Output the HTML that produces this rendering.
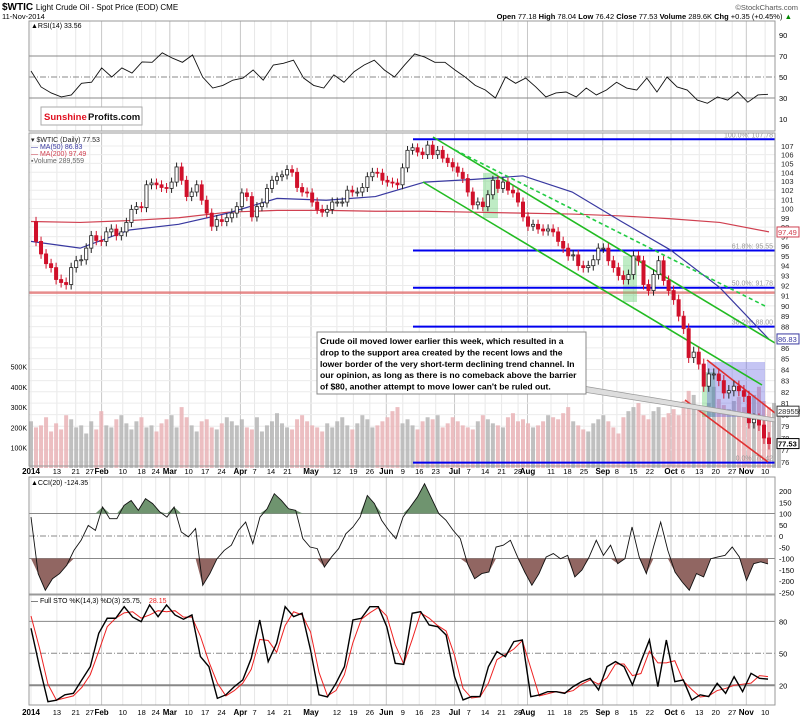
<!DOCTYPE html>
<html><head><meta charset="utf-8"><style>
body{margin:0;background:#fff;font-family:"Liberation Sans",sans-serif}
svg text{font-family:"Liberation Sans",sans-serif}
</style></head><body>
<svg id="c" width="800" height="722" viewBox="0 0 800 722" xmlns="http://www.w3.org/2000/svg">
<rect width="800" height="722" fill="#fff"/>
<text x="2" y="10" font-size="10" font-weight="bold">$WTIC <tspan font-weight="normal" font-size="8">Light Crude Oil - Spot Price (EOD) CME</tspan></text>
<text x="2" y="19" font-size="7.5">11-Nov-2014</text>
<text x="798" y="10" font-size="7.5" text-anchor="end" fill="#555">©StockCharts.com</text>
<text x="792" y="19" font-size="7.5" text-anchor="end"><tspan font-weight="bold">Open</tspan> 77.18 <tspan font-weight="bold">High</tspan> 78.04 <tspan font-weight="bold">Low</tspan> 76.42 <tspan font-weight="bold">Close</tspan> 77.53 <tspan font-weight="bold">Volume</tspan> 289.6K <tspan font-weight="bold">Chg</tspan> +0.35 (+0.45%) <tspan fill="#080">▲</tspan></text>
<g id="g"></g>
</svg>
<script>
const closes=[98.6,96.5,95.2,94.2,93.8,92.6,92.3,92.1,93.8,94.5,94.6,95.8,97.1,96.6,96.5,97.5,97.8,97.1,97.5,98.5,99.9,100.2,100.1,102.6,102.8,102.6,102.3,102.2,102.9,104.6,103.1,101.3,101.8,102.6,100.9,99.5,98.1,98.8,98.6,99.0,99.5,100.2,101.7,101.3,99.1,100.2,100.6,102.2,103.1,103.5,103.7,104.3,104.0,102.3,101.8,101.7,100.7,99.9,99.6,99.9,100.7,100.7,100.7,102.0,101.8,101.8,102.3,103.5,104.0,103.9,103.1,102.9,102.8,102.6,104.5,106.5,106.8,106.3,106.0,107.1,106.0,106.5,105.6,105.1,104.6,104.0,103.3,101.8,100.4,100.7,100.2,101.5,103.1,102.2,102.9,102.0,101.7,100.7,99.1,98.1,98.3,97.8,97.6,97.8,97.5,96.5,95.8,95.0,95.1,94.0,93.8,94.0,94.6,95.8,95.8,94.5,93.8,93.0,92.6,93.1,95.0,94.5,92.1,91.5,93.1,94.5,92.5,91.5,90.6,89.0,87.8,85.1,85.6,84.5,82.5,83.6,83.6,83.0,81.9,82.1,82.5,82.1,81.6,79.3,79.6,79.1,78.0,77.53];
const volumes=[230,200,210,250,180,220,190,260,240,200,210,170,230,190,280,210,200,240,260,220,190,230,250,200,210,180,220,240,260,200,300,250,210,180,230,240,200,190,220,250,230,210,240,200,190,250,180,210,230,270,220,200,190,240,260,230,210,200,180,220,200,230,250,210,190,220,260,240,200,210,230,250,280,300,220,240,210,190,230,250,240,260,200,220,250,230,210,200,190,230,260,240,220,210,200,250,270,230,240,220,200,210,230,260,250,240,270,300,230,210,190,180,220,240,260,230,200,170,250,280,300,320,260,240,280,300,250,270,290,260,330,380,360,300,280,320,400,340,310,290,330,350,300,280,360,400,330,300,320,290];
const ma50=[96.5,95.8,97.7,98.3,99.5,101.1,100.9,101.3,102.9,103.2,103.6,101.8,98.6,95.6,91.8,86.8];
const ma200=[98.6,98.5,98.7,99.0,99.6,99.8,99.8,99.7,99.7,99.6,99.5,99.4,99.2,98.9,98.5,97.5];
const rsi=[55.7,40.5,34.8,31,32.9,44,45,58.6,50,58.6,53.8,64.3,64,73,68,64,71,50,39.5,42,47,49,56.7,47,61.4,63,66,49,42,39.5,52,45,55,61.4,66,56.7,50,61.4,72,69,64,64,56.7,50,42,37.6,30,50,44,49,40.5,31,34.8,35.7,31,39.5,32.9,37.6,45,39.5,37.6,49,35.7,50,40.5,37.6,28,25,31,28,35.7,26,32.9,33.56];
const cci=[84,-167,-241,-190,-167,-130,-64,-19,47,25,129,77,77,136,158,114,166,144,107,84,129,18,-4,33,-219,-167,-101,-64,-41,25,62,-34,84,121,188,158,121,114,-12,-49,-56,-138,-93,-56,10,40,84,180,144,70,25,-12,84,129,173,232,166,99,70,25,-12,-123,-190,-167,-160,-49,-41,-19,-93,-160,-219,-167,-93,-78,-101,-86,-182,-151,-93,-19,-86,-41,-123,-101,40,-93,-167,-49,62,-64,-160,-204,-241,-167,-182,-101,-93,-86,-49,-93,-197,-123,-115,-124.35];
const stoK=[73.5,37.5,4.6,6,11,12.4,25,37.5,68.8,82.9,82.9,93.8,84,79.7,95.4,84.4,95.4,86,82,86,46.9,37.5,7.7,11,18.7,25,45.3,81.3,42.2,59.4,93.8,84.4,87.6,53,11,9,21.8,37.5,81.3,82.9,93.8,93.8,75,40.6,39.6,87.6,89.1,76.6,75,67.2,28,6.2,9.4,9.4,37.5,51.6,46.9,61,62.5,9.3,10.9,14,14,12.4,18.7,23.4,26.5,15.6,37.5,42.2,37.5,20.3,42.2,62.5,18.7,62.5,23.4,25,6.2,11,9.4,21.8,12.4,28,14,31.2,26.5,25.75];
const stoD=[85,55,21,6,8,10,18,30,52,75,83,88,89,83,86,90,89,90,84,84,66,42,22,10,15,22,35,63,62,51,76,89,86,70,32,10,15,30,60,82,88,93,85,58,40,63,88,83,76,71,48,17,8,9,22,44,49,54,62,36,10,12,14,13,15,21,25,21,27,40,40,29,31,52,41,41,43,24,16,9,10,15,17,20,21,22,29,28.15];
const dateLabels=["2014","13","21","27","Feb","10","18","24","Mar","10","17","24","Apr","7","14","21","May","12","19","26","Jun","9","16","23","Jul","7","14","21","28","Aug","11","18","25","Sep","8","15","22","Oct","6","13","20","27","Nov","10"];
const dateDoy=[2,13,21,27,32,41,49,55,61,69,76,83,91,97,104,111,121,132,139,146,153,160,167,174,182,188,195,202,209,213,223,230,237,245,251,258,265,274,279,286,293,300,306,314];
const priceTicks=[107,106,105,104,103,102,101,100,99,98,97,96,95,94,93,92,91,90,89,88,87,86,85,84,83,82,81,80,79,78,77,76];
const volTicks=[500,400,300,200,100];
const rsiTicks=[90,70,50,30,10];
const cciTicks=[200,150,100,50,0,-50,-100,-150,-200,-250];
const stoTicks=[80,50,20];
const fibLevels=[107.78,95.55,91.78,88.0,75.95];
const fibNames=["100.0%: 107.78","61.8%: 95.55","50.0%: 91.78","38.2%: 88.00","0.0%: 76.42"];

const NS="http://www.w3.org/2000/svg",G=document.getElementById('g');
function el(t,a,txt){const e=document.createElementNS(NS,t);for(const k in a)e.setAttribute(k,a[k]);if(txt!==undefined)e.textContent=txt;G.appendChild(e);return e;}
const L=29,R=775;
const xBar=i=>31+i*(738/(closes.length-1));
const xS=(i,n)=>31+i*(737/(n-1));
const xDoy=d=>31+(d-2)*2.353;
const yP=p=>146+(Math.log(107)-Math.log(p))/0.3421*316;
const yV=v=>468-v*0.203;
const yR=v=>119-(v-10)*1.05;
const yC=v=>536-v*0.225;
const yS=v=>653.3-(v-50)*1.065;
const panels=[[21,131,'rsi-panel'],[133,466,'price-panel'],[477,594,'cci-panel'],[595,705,'sto-panel']];
// grids
panels.forEach(([t,b,n])=>{
 dateDoy.forEach((d,i)=>{const l=el('line',{x1:xDoy(d),x2:xDoy(d),y1:t,y2:b,stroke:isNaN(+dateLabels[i])?'#c8c8c8':'#e8e8e8','stroke-width':1});
 });
});
priceTicks.forEach(p=>{const l=el('line',{x1:L,x2:R,y1:yP(p),y2:yP(p),stroke:'#ececec'});
 const t=el('text',{x:781,y:yP(p)+3,'font-size':7.5,fill:'#222'},p);});
// volume
volumes.forEach((v,i)=>{const down=i>0&&closes[i]<closes[i-1];const r=el('rect',{x:xBar(i)-2,width:4,y:yV(v),height:468-yV(v),fill:down?'#e9b3b6':'#b5b5b5',opacity:0.85});
 });
volTicks.forEach(v=>{const t=el('text',{x:27,y:yV(v)+3,'font-size':7,'text-anchor':'end'},v+'K');});
// red horizontal support
let hl=el('line',{x1:L,x2:R,y1:yP(91.3),y2:yP(91.3),stroke:'#e07070','stroke-width':2.5,opacity:0.8});
// highlight rects
[[483,173,15,45,'#5fcf6f'],[623,256,14,46,'#5fcf6f'],[702,372,13,45,'#5fcf6f'],[707,362,58,55,'#5a5ae0']].forEach(([x,y,w,h,c])=>{const r=el('rect',{x,y,width:w,height:h,fill:c,opacity:c=='#5a5ae0'?0.35:0.4});});
// fib lines
fibLevels.forEach((f,i)=>{const l=el('line',{x1:413,x2:R,y1:yP(f),y2:yP(f),stroke:'#0000ee','stroke-width':2});
 const t=el('text',{x:773,y:yP(f)-2,'font-size':7,'text-anchor':'end',fill:'#999'},fibNames[i]);});
// MAs
function poly(arr,xf,yf,attrs,name){const pts=arr.map((v,i)=>xf(i,arr.length)+','+yf(v)).join(' ');const p=el('polyline',Object.assign({points:pts,fill:'none'},attrs));return p;}
poly(ma200,(i,n)=>31+i*(738/(n-1)),yP,{stroke:'#d04050','stroke-width':1.2},'ma200-line');
poly(ma50,(i,n)=>31+i*(738/(n-1)),yP,{stroke:'#3838a0','stroke-width':1.2},'ma50-line');
// trend lines
[[433,137,775,343,'#22bb22',''],[423,182,762,385,'#22bb22',''],[455,150,767,307,'#22cc44','4,3'],[707,360,775,413,'#e03030',''],[685,400,768,462,'#e03030','']].forEach(([a,b,c,d,s,da])=>{const l=el('line',{x1:a,y1:b,x2:c,y2:d,stroke:s,'stroke-width':1.6,'stroke-dasharray':da});});
// candles
closes.forEach((c,i)=>{if(i==0)return;const o=closes[i-1],x=xBar(i),up=c>=o;const hi=Math.max(o,c)+0.5,lo=Math.min(o,c)-0.5;
 const w=el('line',{x1:x,x2:x,y1:yP(hi),y2:yP(lo),stroke:up?'#222':'#d0102a'});
 const r=el('rect',{x:x-1.6,width:3.2,y:yP(Math.max(o,c)),height:Math.max(1,yP(Math.min(o,c))-yP(Math.max(o,c))),fill:up?'#fff':'#d0102a',stroke:up?'#222':'#d0102a','stroke-width':0.8});});
// callout
let cl=el('polygon',{points:'583,386 775,418 775,422 583,392',fill:'#ddd',stroke:'#999','stroke-width':0.7});
let cb=el('rect',{x:317,y:332,width:269,height:62,fill:'#fff',stroke:'#888'});
["Crude oil moved lower earlier this week, which resulted in a","drop to the support area created by the recent lows and the","lower border of the very short-term declining trend channel. In","our opinion, as long as there is no comeback above the barrier","of $80, another attempt to move lower can't be ruled out."].forEach((s,i)=>{const t=el('text',{x:320,y:344+i*11.4,'font-size':8.6,'font-weight':'bold'},s);});
// price legend
[['▾ $WTIC (Daily) 77.53','#222'],['— MA(50) 86.83','#3838a0'],['— MA(200) 97.49','#d04050'],['▪Volume 289,559','#666']].forEach(([s,c],i)=>{const t=el('text',{x:31,y:142+i*7,'font-size':7,fill:c},s);});
// value tags
[[97.49,'97.49','#d04050'],[86.83,'86.83','#3838a0'],[80.3,'289559','#333'],[77.53,'77.53','#000']].forEach(([p,s,c])=>{const y=yP(p);const r=el('rect',{x:777,y:y-5,width:22,height:10,fill:'#fff',stroke:c});
 const t=el('text',{x:778,y:y+3,'font-size':7.5,fill:c,'font-weight':s=='77.53'?'bold':'normal'},s);});
// RSI
[70,50,30].forEach(v=>{const l=el('line',{x1:L,x2:R,y1:yR(v),y2:yR(v),stroke:'#888','stroke-dasharray':v==50?'6,2,1,2':''});});
rsiTicks.forEach(v=>{const t=el('text',{x:779,y:yR(v)+3,'font-size':7.5},v);});
poly(rsi,xS,yR,{stroke:'#111','stroke-width':0.9},'rsi-line');
let rl=el('text',{x:31,y:28,'font-size':7},'▲RSI(14) 33.56');
let lb=el('rect',{x:41,y:107,width:101,height:18,fill:'#fff',stroke:'#aaa'});
let lt=el('text',{x:44,y:120,'font-size':9.5,'font-weight':'bold',fill:'#e01020'},'Sunshine');
let lt2=el('text',{x:88,y:120,'font-size':9.5,'font-weight':'bold',fill:'#111'},'Profits.com');
// CCI
[100,-100].forEach(v=>{const l=el('line',{x1:L,x2:R,y1:yC(v),y2:yC(v),stroke:'#888'});});
let z=el('line',{x1:L,x2:R,y1:yC(0),y2:yC(0),stroke:'#888','stroke-dasharray':'6,2,1,2'});
function fillArea(arr,yf,lvl,above,col,name){let d='';const n=arr.length;arr.forEach((v,i)=>{const x=xS(i,n);const cv=above?Math.max(v,lvl):Math.min(v,lvl);d+=(i?'L':'M')+x+','+yf(cv);});d+='L'+xS(n-1,n)+','+yf(lvl)+'L'+xS(0,n)+','+yf(lvl)+'Z';const p=el('path',{d,fill:col});}
fillArea(cci,yC,100,true,'#6f946f','cci-overbought-fill');
fillArea(cci,yC,-100,false,'#916662','cci-oversold-fill');
poly(cci,xS,yC,{stroke:'#111','stroke-width':0.9},'cci-line');
cciTicks.forEach(v=>{const t=el('text',{x:779,y:yC(v)+3,'font-size':7.5},v);});
let ccl=el('text',{x:31,y:485,'font-size':7},'▲CCI(20) -124.35');
// STO
[80,20].forEach(v=>{const l=el('line',{x1:L,x2:R,y1:yS(v),y2:yS(v),stroke:'#888','stroke-width':v==20?2:1});});
let s5=el('line',{x1:L,x2:R,y1:yS(50),y2:yS(50),stroke:'#888','stroke-dasharray':'6,2,1,2'});
poly(stoD,xS,yS,{stroke:'#ee2222','stroke-width':1},'sto-d-line');
poly(stoK,xS,yS,{stroke:'#000','stroke-width':1.4},'sto-k-line');
stoTicks.forEach(v=>{const t=el('text',{x:779,y:yS(v)+3,'font-size':7.5},v);});
let sl=el('text',{x:31,y:603,'font-size':7},'— Full STO %K(14,3) %D(3) 25.75, ');
let sl2=el('text',{x:149,y:603,'font-size':7,fill:'#e22'},'28.15');
// panel borders
panels.forEach(([t,b,n])=>{const r=el('rect',{x:L,y:t,width:R-L,height:b-t,fill:'none',stroke:'#999'});});
// date axes
[474,715].forEach(y=>{dateLabels.forEach((s,i)=>{const bold=isNaN(+s)||s=='2014';const t=el('text',{x:xDoy(dateDoy[i]),y:y,'font-size':bold?8:7.5,'font-weight':bold?'bold':'normal','text-anchor':'middle'},s);});});
</script>
</body></html>
